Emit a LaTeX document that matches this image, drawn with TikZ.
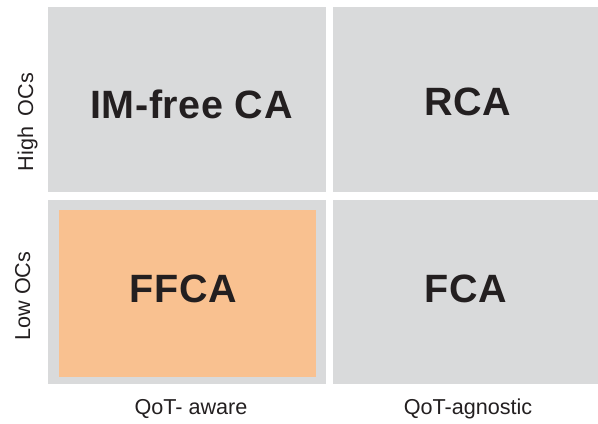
\documentclass[tikz,border=0pt]{standalone}
\usepackage{fontspec}
\setmainfont{Liberation Sans}
\definecolor{cellgray}{HTML}{D9DADB}
\definecolor{cellorange}{HTML}{F9C190}
\definecolor{ink}{HTML}{231F20}
\tikzset{
  cell/.style={fill=cellgray, draw=none},
  hilite/.style={fill=cellorange, draw=none},
  biglabel/.style={text=ink, font=\fontsize{39.5bp}{44bp}\selectfont\bfseries\addfontfeatures{LetterSpace=1.5}, inner sep=0pt, anchor=base},
  axislabel/.style={text=ink, font=\fontsize{21.6bp}{25bp}\selectfont, inner sep=0pt, anchor=base}
}
\begin{document}
\begin{tikzpicture}[x=1bp, y=-1bp]
  \useasboundingbox (0,0) rectangle (598,423);
  % cells
  \path[cell] (48,7) rectangle (326,192);
  \path[cell] (333,7) rectangle (598,192);
  \path[cell] (48,200) rectangle (326,384);
  \path[cell] (333,200) rectangle (598,384);
  \path[hilite] (59,210) rectangle (316,377);
  % cell labels
  \node[biglabel] (imfree) at (191.5,118) {IM-free CA};
  \node[biglabel] (rca) at (468,115) {RCA};
  \node[biglabel] (ffca) at (183.5,302) {FFCA};
  \node[biglabel] (fca) at (466,302) {FCA};
  % axis labels
  \node[axislabel, rotate=90] (high) at (33,122) {High\hspace{0.5em}OCs};
  \node[axislabel, rotate=90] (low) at (30,296) {Low OCs};
  \node[axislabel] (aware) at (191,414) {QoT- aware};
  \node[axislabel] (agn) at (468,414) {QoT-agnostic};
\end{tikzpicture}
\end{document}
